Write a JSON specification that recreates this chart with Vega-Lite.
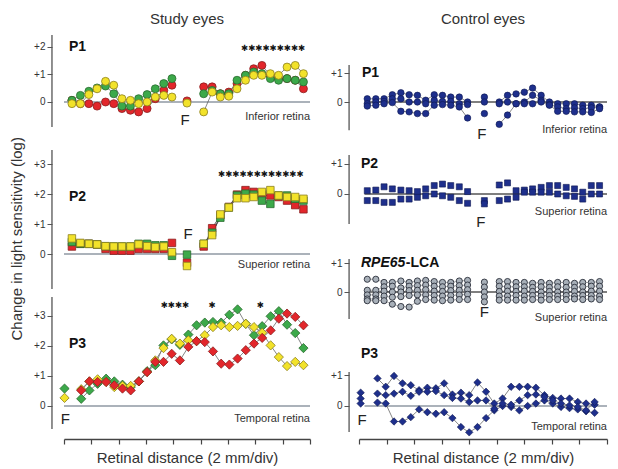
{
"$schema": "https://vega.github.io/schema/vega-lite/v6.json",
"padding": {"left": 9, "top": 12, "right": 5, "bottom": 4},
"title": {"text": "Change in light sensitivity (log)", "orient": "left", "anchor": "middle", "fontSize": 15, "fontWeight": "normal", "color": "#333", "offset": 9},
"datasets": {
"s1": [
{"e":"r","s":1,"x":0.29,"y":0.06},{"e":"r","s":1,"x":0.60,"y":-0.06},{"e":"r","s":1,"x":0.91,"y":-0.06},{"e":"r","s":1,"x":1.21,"y":-0.15},{"e":"r","s":1,"x":1.52,"y":0.00},{"e":"r","s":1,"x":1.82,"y":-0.06},{"e":"r","s":1,"x":2.12,"y":-0.24},{"e":"r","s":1,"x":2.43,"y":-0.30},{"e":"r","s":1,"x":2.73,"y":-0.36},{"e":"r","s":1,"x":3.04,"y":-0.24},{"e":"r","s":1,"x":3.34,"y":0.12},{"e":"r","s":1,"x":3.65,"y":0.42},{"e":"r","s":1,"x":3.95,"y":0.61},
{"e":"r","s":2,"x":4.50,"y":0.04},
{"e":"r","s":3,"x":5.11,"y":0.55},{"e":"r","s":3,"x":5.42,"y":0.55},{"e":"r","s":3,"x":5.72,"y":0.30},{"e":"r","s":3,"x":6.03,"y":0.36},{"e":"r","s":3,"x":6.33,"y":0.67},{"e":"r","s":3,"x":6.64,"y":0.97},{"e":"r","s":3,"x":6.94,"y":1.21},{"e":"r","s":3,"x":7.24,"y":1.33},{"e":"r","s":3,"x":7.55,"y":0.97},{"e":"r","s":3,"x":7.85,"y":0.85},{"e":"r","s":3,"x":8.16,"y":0.85},{"e":"r","s":3,"x":8.46,"y":0.79},{"e":"r","s":3,"x":8.76,"y":0.48},
{"e":"g","s":1,"x":0.29,"y":0.06},{"e":"g","s":1,"x":0.60,"y":0.24},{"e":"g","s":1,"x":0.91,"y":0.39},{"e":"g","s":1,"x":1.21,"y":0.51},{"e":"g","s":1,"x":1.52,"y":0.58},{"e":"g","s":1,"x":1.82,"y":0.30},{"e":"g","s":1,"x":2.12,"y":-0.15},{"e":"g","s":1,"x":2.43,"y":-0.15},{"e":"g","s":1,"x":2.73,"y":0.12},{"e":"g","s":1,"x":3.04,"y":0.27},{"e":"g","s":1,"x":3.34,"y":0.48},{"e":"g","s":1,"x":3.65,"y":0.67},{"e":"g","s":1,"x":3.95,"y":0.85},
{"e":"g","s":3,"x":5.11,"y":0.30},{"e":"g","s":3,"x":5.42,"y":0.42},{"e":"g","s":3,"x":5.72,"y":0.30},{"e":"g","s":3,"x":6.03,"y":0.30},{"e":"g","s":3,"x":6.33,"y":0.79},{"e":"g","s":3,"x":6.64,"y":0.97},{"e":"g","s":3,"x":6.94,"y":1.09},{"e":"g","s":3,"x":7.24,"y":1.03},{"e":"g","s":3,"x":7.55,"y":0.85},{"e":"g","s":3,"x":7.85,"y":0.79},{"e":"g","s":3,"x":8.16,"y":0.85},{"e":"g","s":3,"x":8.46,"y":0.79},{"e":"g","s":3,"x":8.76,"y":0.73},
{"e":"y","s":1,"x":0.29,"y":-0.06},{"e":"y","s":1,"x":0.60,"y":-0.06},{"e":"y","s":1,"x":0.91,"y":0.27},{"e":"y","s":1,"x":1.21,"y":0.48},{"e":"y","s":1,"x":1.52,"y":0.75},{"e":"y","s":1,"x":1.82,"y":0.61},{"e":"y","s":1,"x":2.12,"y":0.12},{"e":"y","s":1,"x":2.43,"y":0.06},{"e":"y","s":1,"x":2.73,"y":-0.06},{"e":"y","s":1,"x":3.04,"y":0.00},{"e":"y","s":1,"x":3.34,"y":0.18},{"e":"y","s":1,"x":3.65,"y":0.24},{"e":"y","s":1,"x":3.95,"y":0.18},
{"e":"y","s":2,"x":4.50,"y":-0.04},
{"e":"y","s":3,"x":5.11,"y":-0.36},{"e":"y","s":3,"x":5.42,"y":0.36},{"e":"y","s":3,"x":5.72,"y":0.18},{"e":"y","s":3,"x":6.03,"y":0.21},{"e":"y","s":3,"x":6.33,"y":0.48},{"e":"y","s":3,"x":6.64,"y":0.79},{"e":"y","s":3,"x":6.94,"y":0.97},{"e":"y","s":3,"x":7.24,"y":0.97},{"e":"y","s":3,"x":7.55,"y":1.03},{"e":"y","s":3,"x":7.85,"y":0.97},{"e":"y","s":3,"x":8.16,"y":1.27},{"e":"y","s":3,"x":8.46,"y":1.33},{"e":"y","s":3,"x":8.76,"y":1.03}
],
"s2": [
{"e":"r","s":1,"x":0.29,"y":0.25},{"e":"r","s":1,"x":0.60,"y":0.34},{"e":"r","s":1,"x":0.91,"y":0.34},{"e":"r","s":1,"x":1.21,"y":0.32},{"e":"r","s":1,"x":1.52,"y":0.17},{"e":"r","s":1,"x":1.82,"y":0.11},{"e":"r","s":1,"x":2.12,"y":0.11},{"e":"r","s":1,"x":2.43,"y":0.11},{"e":"r","s":1,"x":2.73,"y":0.17},{"e":"r","s":1,"x":3.04,"y":0.17},{"e":"r","s":1,"x":3.34,"y":0.17},{"e":"r","s":1,"x":3.65,"y":0.17},{"e":"r","s":1,"x":3.95,"y":0.37},
{"e":"r","s":2,"x":4.50,"y":-0.29},
{"e":"r","s":3,"x":5.11,"y":0.25},{"e":"r","s":3,"x":5.42,"y":0.86},{"e":"r","s":3,"x":5.72,"y":1.29},{"e":"r","s":3,"x":6.03,"y":1.57},{"e":"r","s":3,"x":6.33,"y":1.98},{"e":"r","s":3,"x":6.64,"y":2.13},{"e":"r","s":3,"x":6.94,"y":2.07},{"e":"r","s":3,"x":7.24,"y":1.95},{"e":"r","s":3,"x":7.55,"y":1.95},{"e":"r","s":3,"x":7.85,"y":1.90},{"e":"r","s":3,"x":8.16,"y":1.78},{"e":"r","s":3,"x":8.46,"y":1.63},{"e":"r","s":3,"x":8.76,"y":1.49},
{"e":"g","s":1,"x":0.29,"y":0.40},{"e":"g","s":1,"x":0.60,"y":0.34},{"e":"g","s":1,"x":0.91,"y":0.34},{"e":"g","s":1,"x":1.21,"y":0.32},{"e":"g","s":1,"x":1.52,"y":0.26},{"e":"g","s":1,"x":1.82,"y":0.25},{"e":"g","s":1,"x":2.12,"y":0.25},{"e":"g","s":1,"x":2.43,"y":0.25},{"e":"g","s":1,"x":2.73,"y":0.34},{"e":"g","s":1,"x":3.04,"y":0.34},{"e":"g","s":1,"x":3.34,"y":0.29},{"e":"g","s":1,"x":3.65,"y":0.29},{"e":"g","s":1,"x":3.95,"y":-0.06},
{"e":"g","s":2,"x":4.50,"y":-0.02},
{"e":"g","s":3,"x":5.11,"y":0.34},{"e":"g","s":3,"x":5.42,"y":0.71},{"e":"g","s":3,"x":5.72,"y":1.21},{"e":"g","s":3,"x":6.03,"y":1.55},{"e":"g","s":3,"x":6.33,"y":1.95},{"e":"g","s":3,"x":6.64,"y":2.01},{"e":"g","s":3,"x":6.94,"y":1.98},{"e":"g","s":3,"x":7.24,"y":1.78},{"e":"g","s":3,"x":7.55,"y":1.67},{"e":"g","s":3,"x":7.85,"y":1.95},{"e":"g","s":3,"x":8.16,"y":1.95},{"e":"g","s":3,"x":8.46,"y":1.84},{"e":"g","s":3,"x":8.76,"y":1.78},
{"e":"y","s":1,"x":0.29,"y":0.52},{"e":"y","s":1,"x":0.60,"y":0.37},{"e":"y","s":1,"x":0.91,"y":0.34},{"e":"y","s":1,"x":1.21,"y":0.32},{"e":"y","s":1,"x":1.52,"y":0.26},{"e":"y","s":1,"x":1.82,"y":0.25},{"e":"y","s":1,"x":2.12,"y":0.25},{"e":"y","s":1,"x":2.43,"y":0.25},{"e":"y","s":1,"x":2.73,"y":0.32},{"e":"y","s":1,"x":3.04,"y":0.26},{"e":"y","s":1,"x":3.34,"y":0.23},{"e":"y","s":1,"x":3.65,"y":0.25},{"e":"y","s":1,"x":3.95,"y":0.06},
{"e":"y","s":2,"x":4.50,"y":-0.40},
{"e":"y","s":3,"x":5.11,"y":0.34},{"e":"y","s":3,"x":5.42,"y":0.63},{"e":"y","s":3,"x":5.72,"y":1.32},{"e":"y","s":3,"x":6.03,"y":1.55},{"e":"y","s":3,"x":6.33,"y":1.86},{"e":"y","s":3,"x":6.64,"y":1.86},{"e":"y","s":3,"x":6.94,"y":1.90},{"e":"y","s":3,"x":7.24,"y":2.07},{"e":"y","s":3,"x":7.55,"y":2.13},{"e":"y","s":3,"x":7.85,"y":1.95},{"e":"y","s":3,"x":8.16,"y":1.90},{"e":"y","s":3,"x":8.46,"y":1.90},{"e":"y","s":3,"x":8.76,"y":1.84}
],
"s3": [
{"e":"g","s":0,"x":0.02,"y":0.58},{"e":"y","s":0,"x":0.02,"y":0.27},
{"e":"g","s":1,"x":0.63,"y":0.24},{"e":"g","s":1,"x":0.93,"y":0.52},{"e":"g","s":1,"x":1.23,"y":0.74},{"e":"g","s":1,"x":1.54,"y":0.91},{"e":"g","s":1,"x":1.84,"y":0.82},{"e":"g","s":1,"x":2.14,"y":0.71},{"e":"g","s":1,"x":2.44,"y":0.63},{"e":"g","s":1,"x":2.74,"y":0.82},{"e":"g","s":1,"x":3.04,"y":1.16},{"e":"g","s":1,"x":3.34,"y":1.36},{"e":"g","s":1,"x":3.64,"y":2.02},{"e":"g","s":1,"x":3.94,"y":2.22},{"e":"g","s":1,"x":4.24,"y":2.04},{"e":"g","s":1,"x":4.55,"y":2.38},{"e":"g","s":1,"x":4.85,"y":2.69},{"e":"g","s":1,"x":5.15,"y":2.78},{"e":"g","s":1,"x":5.45,"y":2.80},{"e":"g","s":1,"x":5.75,"y":2.78},{"e":"g","s":1,"x":6.05,"y":3.04},{"e":"g","s":1,"x":6.35,"y":3.22},{"e":"g","s":1,"x":6.65,"y":2.74},{"e":"g","s":1,"x":6.95,"y":2.36},{"e":"g","s":1,"x":7.25,"y":2.66},{"e":"g","s":1,"x":7.56,"y":2.99},{"e":"g","s":1,"x":7.86,"y":3.16},{"e":"g","s":1,"x":8.16,"y":2.71},{"e":"g","s":1,"x":8.46,"y":2.43},{"e":"g","s":1,"x":8.76,"y":1.93},
{"e":"y","s":1,"x":0.63,"y":0.56},{"e":"y","s":1,"x":0.93,"y":0.82},{"e":"y","s":1,"x":1.23,"y":0.89},{"e":"y","s":1,"x":1.54,"y":0.80},{"e":"y","s":1,"x":1.84,"y":0.63},{"e":"y","s":1,"x":2.14,"y":0.67},{"e":"y","s":1,"x":2.44,"y":0.67},{"e":"y","s":1,"x":2.74,"y":0.82},{"e":"y","s":1,"x":3.04,"y":1.13},{"e":"y","s":1,"x":3.34,"y":1.52},{"e":"y","s":1,"x":3.64,"y":1.93},{"e":"y","s":1,"x":3.94,"y":2.24},{"e":"y","s":1,"x":4.24,"y":2.08},{"e":"y","s":1,"x":4.55,"y":2.19},{"e":"y","s":1,"x":4.85,"y":2.16},{"e":"y","s":1,"x":5.15,"y":2.36},{"e":"y","s":1,"x":5.45,"y":2.63},{"e":"y","s":1,"x":5.75,"y":2.69},{"e":"y","s":1,"x":6.05,"y":2.63},{"e":"y","s":1,"x":6.35,"y":2.67},{"e":"y","s":1,"x":6.65,"y":2.74},{"e":"y","s":1,"x":6.95,"y":2.63},{"e":"y","s":1,"x":7.25,"y":2.44},{"e":"y","s":1,"x":7.56,"y":2.02},{"e":"y","s":1,"x":7.86,"y":1.63},{"e":"y","s":1,"x":8.16,"y":1.33},{"e":"y","s":1,"x":8.46,"y":1.47},{"e":"y","s":1,"x":8.76,"y":1.36},
{"e":"r","s":1,"x":0.63,"y":0.52},{"e":"r","s":1,"x":0.93,"y":0.82},{"e":"r","s":1,"x":1.23,"y":0.80},{"e":"r","s":1,"x":1.54,"y":0.80},{"e":"r","s":1,"x":1.84,"y":0.69},{"e":"r","s":1,"x":2.14,"y":0.58},{"e":"r","s":1,"x":2.44,"y":0.52},{"e":"r","s":1,"x":2.74,"y":0.82},{"e":"r","s":1,"x":3.04,"y":1.13},{"e":"r","s":1,"x":3.34,"y":1.47},{"e":"r","s":1,"x":3.64,"y":1.47},{"e":"r","s":1,"x":3.94,"y":1.74},{"e":"r","s":1,"x":4.24,"y":1.52},{"e":"r","s":1,"x":4.55,"y":1.97},{"e":"r","s":1,"x":4.85,"y":2.16},{"e":"r","s":1,"x":5.15,"y":2.13},{"e":"r","s":1,"x":5.45,"y":1.82},{"e":"r","s":1,"x":5.75,"y":1.41},{"e":"r","s":1,"x":6.05,"y":1.38},{"e":"r","s":1,"x":6.35,"y":1.58},{"e":"r","s":1,"x":6.65,"y":1.86},{"e":"r","s":1,"x":6.95,"y":2.08},{"e":"r","s":1,"x":7.25,"y":2.27},{"e":"r","s":1,"x":7.56,"y":2.52},{"e":"r","s":1,"x":7.86,"y":2.91},{"e":"r","s":1,"x":8.16,"y":3.08},{"e":"r","s":1,"x":8.46,"y":2.97},{"e":"r","s":1,"x":8.76,"y":2.69}
],
"c1": [
{"e":"A","s":1,"x":0.30,"y":0.11},{"e":"A","s":1,"x":0.61,"y":0.11},{"e":"A","s":1,"x":0.91,"y":0.11},{"e":"A","s":1,"x":1.21,"y":0.25},{"e":"A","s":1,"x":1.52,"y":0.32},{"e":"A","s":1,"x":1.82,"y":0.25},{"e":"A","s":1,"x":2.12,"y":0.23},{"e":"A","s":1,"x":2.42,"y":0.06},{"e":"A","s":1,"x":2.73,"y":0.25},{"e":"A","s":1,"x":3.03,"y":0.23},{"e":"A","s":1,"x":3.33,"y":0.17},{"e":"A","s":1,"x":3.64,"y":0.17},{"e":"A","s":1,"x":3.94,"y":0.00},
{"e":"A","s":2,"x":4.55,"y":0.17},
{"e":"A","s":3,"x":5.09,"y":0.00},{"e":"A","s":3,"x":5.39,"y":0.23},{"e":"A","s":3,"x":5.70,"y":0.28},{"e":"A","s":3,"x":6.00,"y":0.34},{"e":"A","s":3,"x":6.30,"y":0.48},{"e":"A","s":3,"x":6.61,"y":0.23},{"e":"A","s":3,"x":6.91,"y":0.00},{"e":"A","s":3,"x":7.21,"y":-0.06},{"e":"A","s":3,"x":7.52,"y":-0.06},{"e":"A","s":3,"x":7.82,"y":-0.06},{"e":"A","s":3,"x":8.12,"y":-0.11},{"e":"A","s":3,"x":8.43,"y":-0.11},{"e":"A","s":3,"x":8.73,"y":-0.17},
{"e":"B","s":1,"x":0.30,"y":-0.06},{"e":"B","s":1,"x":0.61,"y":0.00},{"e":"B","s":1,"x":0.91,"y":0.02},{"e":"B","s":1,"x":1.21,"y":0.11},{"e":"B","s":1,"x":1.52,"y":0.11},{"e":"B","s":1,"x":1.82,"y":0.00},{"e":"B","s":1,"x":2.12,"y":0.00},{"e":"B","s":1,"x":2.42,"y":-0.06},{"e":"B","s":1,"x":2.73,"y":0.06},{"e":"B","s":1,"x":3.03,"y":0.02},{"e":"B","s":1,"x":3.33,"y":0.02},{"e":"B","s":1,"x":3.64,"y":-0.06},{"e":"B","s":1,"x":3.94,"y":-0.09},
{"e":"B","s":2,"x":4.55,"y":0.00},
{"e":"B","s":3,"x":5.09,"y":-0.06},{"e":"B","s":3,"x":5.39,"y":0.00},{"e":"B","s":3,"x":5.70,"y":-0.06},{"e":"B","s":3,"x":6.00,"y":0.00},{"e":"B","s":3,"x":6.30,"y":0.23},{"e":"B","s":3,"x":6.61,"y":0.06},{"e":"B","s":3,"x":6.91,"y":-0.09},{"e":"B","s":3,"x":7.21,"y":-0.17},{"e":"B","s":3,"x":7.52,"y":-0.23},{"e":"B","s":3,"x":7.82,"y":-0.20},{"e":"B","s":3,"x":8.12,"y":-0.23},{"e":"B","s":3,"x":8.43,"y":-0.20},{"e":"B","s":3,"x":8.73,"y":-0.17},
{"e":"C","s":1,"x":0.30,"y":-0.14},{"e":"C","s":1,"x":0.61,"y":-0.11},{"e":"C","s":1,"x":0.91,"y":-0.06},{"e":"C","s":1,"x":1.21,"y":-0.02},{"e":"C","s":1,"x":1.52,"y":-0.32},{"e":"C","s":1,"x":1.82,"y":-0.34},{"e":"C","s":1,"x":2.12,"y":-0.40},{"e":"C","s":1,"x":2.42,"y":-0.40},{"e":"C","s":1,"x":2.73,"y":-0.11},{"e":"C","s":1,"x":3.03,"y":-0.09},{"e":"C","s":1,"x":3.33,"y":-0.11},{"e":"C","s":1,"x":3.64,"y":-0.17},{"e":"C","s":1,"x":3.94,"y":-0.55},
{"e":"C","s":2,"x":4.55,"y":-0.40},
{"e":"C","s":3,"x":5.09,"y":-0.77},{"e":"C","s":3,"x":5.39,"y":-0.45},{"e":"C","s":3,"x":5.70,"y":-0.06},{"e":"C","s":3,"x":6.00,"y":-0.06},{"e":"C","s":3,"x":6.30,"y":-0.06},{"e":"C","s":3,"x":6.61,"y":0.00},{"e":"C","s":3,"x":6.91,"y":-0.11},{"e":"C","s":3,"x":7.21,"y":-0.32},{"e":"C","s":3,"x":7.52,"y":-0.32},{"e":"C","s":3,"x":7.82,"y":-0.34},{"e":"C","s":3,"x":8.12,"y":-0.34},{"e":"C","s":3,"x":8.43,"y":-0.36},{"e":"C","s":3,"x":8.73,"y":-0.23}
],
"c2": [
{"e":"A","s":1,"x":0.30,"y":0.11},{"e":"A","s":1,"x":0.61,"y":0.13},{"e":"A","s":1,"x":0.91,"y":0.24},{"e":"A","s":1,"x":1.21,"y":0.17},{"e":"A","s":1,"x":1.52,"y":0.13},{"e":"A","s":1,"x":1.82,"y":0.11},{"e":"A","s":1,"x":2.12,"y":0.08},{"e":"A","s":1,"x":2.42,"y":0.17},{"e":"A","s":1,"x":2.73,"y":0.28},{"e":"A","s":1,"x":3.03,"y":0.33},{"e":"A","s":1,"x":3.33,"y":0.28},{"e":"A","s":1,"x":3.64,"y":0.24},{"e":"A","s":1,"x":3.94,"y":0.08},
{"e":"A","s":2,"x":4.55,"y":-0.22},
{"e":"A","s":3,"x":5.09,"y":0.30},{"e":"A","s":3,"x":5.39,"y":0.37},{"e":"A","s":3,"x":5.70,"y":0.11},{"e":"A","s":3,"x":6.00,"y":0.13},{"e":"A","s":3,"x":6.30,"y":0.17},{"e":"A","s":3,"x":6.61,"y":0.22},{"e":"A","s":3,"x":6.91,"y":0.28},{"e":"A","s":3,"x":7.21,"y":0.28},{"e":"A","s":3,"x":7.52,"y":0.22},{"e":"A","s":3,"x":7.82,"y":0.17},{"e":"A","s":3,"x":8.12,"y":0.06},{"e":"A","s":3,"x":8.43,"y":0.28},{"e":"A","s":3,"x":8.73,"y":0.28},
{"e":"B","s":1,"x":0.30,"y":-0.22},{"e":"B","s":1,"x":0.61,"y":-0.22},{"e":"B","s":1,"x":0.91,"y":-0.28},{"e":"B","s":1,"x":1.21,"y":-0.28},{"e":"B","s":1,"x":1.52,"y":-0.17},{"e":"B","s":1,"x":1.82,"y":-0.17},{"e":"B","s":1,"x":2.12,"y":-0.11},{"e":"B","s":1,"x":2.42,"y":-0.06},{"e":"B","s":1,"x":2.73,"y":0.00},{"e":"B","s":1,"x":3.03,"y":-0.06},{"e":"B","s":1,"x":3.33,"y":-0.11},{"e":"B","s":1,"x":3.64,"y":-0.22},{"e":"B","s":1,"x":3.94,"y":-0.31},
{"e":"B","s":2,"x":4.55,"y":-0.33},
{"e":"B","s":3,"x":5.09,"y":-0.22},{"e":"B","s":3,"x":5.39,"y":-0.17},{"e":"B","s":3,"x":5.70,"y":-0.11},{"e":"B","s":3,"x":6.00,"y":0.06},{"e":"B","s":3,"x":6.30,"y":0.06},{"e":"B","s":3,"x":6.61,"y":0.06},{"e":"B","s":3,"x":6.91,"y":0.06},{"e":"B","s":3,"x":7.21,"y":0.00},{"e":"B","s":3,"x":7.52,"y":-0.06},{"e":"B","s":3,"x":7.82,"y":-0.08},{"e":"B","s":3,"x":8.12,"y":-0.17},{"e":"B","s":3,"x":8.43,"y":0.00},{"e":"B","s":3,"x":8.73,"y":0.00}
],
"rp": [
{"e":"R1","s":1,"x":0.30,"y":0.44},{"e":"R1","s":1,"x":0.61,"y":0.44},{"e":"R1","s":1,"x":0.91,"y":0.33},{"e":"R1","s":1,"x":1.21,"y":0.33},{"e":"R1","s":1,"x":1.52,"y":0.38},{"e":"R1","s":1,"x":1.82,"y":0.33},{"e":"R1","s":1,"x":2.12,"y":0.38},{"e":"R1","s":1,"x":2.42,"y":0.40},{"e":"R1","s":1,"x":2.73,"y":0.36},{"e":"R1","s":1,"x":3.03,"y":0.33},{"e":"R1","s":1,"x":3.33,"y":0.33},{"e":"R1","s":1,"x":3.64,"y":0.38},{"e":"R1","s":1,"x":3.94,"y":0.40},
{"e":"R2","s":1,"x":0.30,"y":0.06},{"e":"R2","s":1,"x":0.61,"y":0.06},{"e":"R2","s":1,"x":0.91,"y":0.18},{"e":"R2","s":1,"x":1.21,"y":0.20},{"e":"R2","s":1,"x":1.52,"y":0.14},{"e":"R2","s":1,"x":1.82,"y":0.20},{"e":"R2","s":1,"x":2.12,"y":0.22},{"e":"R2","s":1,"x":2.42,"y":0.24},{"e":"R2","s":1,"x":2.73,"y":0.20},{"e":"R2","s":1,"x":3.03,"y":0.18},{"e":"R2","s":1,"x":3.33,"y":0.20},{"e":"R2","s":1,"x":3.64,"y":0.22},{"e":"R2","s":1,"x":3.94,"y":0.24},
{"e":"R3","s":1,"x":0.30,"y":-0.10},{"e":"R3","s":1,"x":0.61,"y":-0.10},{"e":"R3","s":1,"x":0.91,"y":0.03},{"e":"R3","s":1,"x":1.21,"y":0.00},{"e":"R3","s":1,"x":1.52,"y":0.00},{"e":"R3","s":1,"x":1.82,"y":0.05},{"e":"R3","s":1,"x":2.12,"y":0.06},{"e":"R3","s":1,"x":2.42,"y":0.08},{"e":"R3","s":1,"x":2.73,"y":0.03},{"e":"R3","s":1,"x":3.03,"y":0.02},{"e":"R3","s":1,"x":3.33,"y":0.05},{"e":"R3","s":1,"x":3.64,"y":0.06},{"e":"R3","s":1,"x":3.94,"y":0.08},
{"e":"R4","s":1,"x":0.30,"y":-0.24},{"e":"R4","s":1,"x":0.61,"y":-0.24},{"e":"R4","s":1,"x":0.91,"y":-0.14},{"e":"R4","s":1,"x":1.21,"y":-0.18},{"e":"R4","s":1,"x":1.52,"y":-0.16},{"e":"R4","s":1,"x":1.82,"y":-0.12},{"e":"R4","s":1,"x":2.12,"y":-0.10},{"e":"R4","s":1,"x":2.42,"y":-0.10},{"e":"R4","s":1,"x":2.73,"y":-0.12},{"e":"R4","s":1,"x":3.03,"y":-0.14},{"e":"R4","s":1,"x":3.33,"y":-0.12},{"e":"R4","s":1,"x":3.64,"y":-0.10},{"e":"R4","s":1,"x":3.94,"y":-0.08},
{"e":"R5","s":1,"x":0.30,"y":-0.30},{"e":"R5","s":1,"x":0.61,"y":-0.30},{"e":"R5","s":1,"x":0.91,"y":-0.30},{"e":"R5","s":1,"x":1.21,"y":-0.42},{"e":"R5","s":1,"x":1.52,"y":-0.50},{"e":"R5","s":1,"x":1.82,"y":-0.52},{"e":"R5","s":1,"x":2.12,"y":-0.32},{"e":"R5","s":1,"x":2.42,"y":-0.26},{"e":"R5","s":1,"x":2.73,"y":-0.28},{"e":"R5","s":1,"x":3.03,"y":-0.30},{"e":"R5","s":1,"x":3.33,"y":-0.28},{"e":"R5","s":1,"x":3.64,"y":-0.26},{"e":"R5","s":1,"x":3.94,"y":-0.26},
{"e":"R1","s":2,"x":4.55,"y":0.34},{"e":"R2","s":2,"x":4.55,"y":0.17},{"e":"R3","s":2,"x":4.55,"y":0.00},{"e":"R4","s":2,"x":4.55,"y":-0.17},{"e":"R5","s":2,"x":4.55,"y":-0.34},
{"e":"R1","s":3,"x":5.09,"y":0.36},{"e":"R1","s":3,"x":5.39,"y":0.36},{"e":"R1","s":3,"x":5.70,"y":0.33},{"e":"R1","s":3,"x":6.00,"y":0.33},{"e":"R1","s":3,"x":6.30,"y":0.30},{"e":"R1","s":3,"x":6.61,"y":0.33},{"e":"R1","s":3,"x":6.91,"y":0.30},{"e":"R1","s":3,"x":7.21,"y":0.33},{"e":"R1","s":3,"x":7.52,"y":0.33},{"e":"R1","s":3,"x":7.82,"y":0.30},{"e":"R1","s":3,"x":8.12,"y":0.33},{"e":"R1","s":3,"x":8.43,"y":0.33},{"e":"R1","s":3,"x":8.73,"y":0.36},
{"e":"R2","s":3,"x":5.09,"y":0.20},{"e":"R2","s":3,"x":5.39,"y":0.18},{"e":"R2","s":3,"x":5.70,"y":0.18},{"e":"R2","s":3,"x":6.00,"y":0.18},{"e":"R2","s":3,"x":6.30,"y":0.16},{"e":"R2","s":3,"x":6.61,"y":0.18},{"e":"R2","s":3,"x":6.91,"y":0.16},{"e":"R2","s":3,"x":7.21,"y":0.18},{"e":"R2","s":3,"x":7.52,"y":0.16},{"e":"R2","s":3,"x":7.82,"y":0.16},{"e":"R2","s":3,"x":8.12,"y":0.18},{"e":"R2","s":3,"x":8.43,"y":0.20},{"e":"R2","s":3,"x":8.73,"y":0.20},
{"e":"R3","s":3,"x":5.09,"y":0.02},{"e":"R3","s":3,"x":5.39,"y":0.03},{"e":"R3","s":3,"x":5.70,"y":0.02},{"e":"R3","s":3,"x":6.00,"y":0.03},{"e":"R3","s":3,"x":6.30,"y":0.02},{"e":"R3","s":3,"x":6.61,"y":0.00},{"e":"R3","s":3,"x":6.91,"y":0.02},{"e":"R3","s":3,"x":7.21,"y":0.00},{"e":"R3","s":3,"x":7.52,"y":0.00},{"e":"R3","s":3,"x":7.82,"y":0.02},{"e":"R3","s":3,"x":8.12,"y":0.00},{"e":"R3","s":3,"x":8.43,"y":0.03},{"e":"R3","s":3,"x":8.73,"y":0.03},
{"e":"R4","s":3,"x":5.09,"y":-0.14},{"e":"R4","s":3,"x":5.39,"y":-0.14},{"e":"R4","s":3,"x":5.70,"y":-0.12},{"e":"R4","s":3,"x":6.00,"y":-0.14},{"e":"R4","s":3,"x":6.30,"y":-0.12},{"e":"R4","s":3,"x":6.61,"y":-0.14},{"e":"R4","s":3,"x":6.91,"y":-0.12},{"e":"R4","s":3,"x":7.21,"y":-0.14},{"e":"R4","s":3,"x":7.52,"y":-0.12},{"e":"R4","s":3,"x":7.82,"y":-0.14},{"e":"R4","s":3,"x":8.12,"y":-0.12},{"e":"R4","s":3,"x":8.43,"y":-0.12},{"e":"R4","s":3,"x":8.73,"y":-0.14},
{"e":"R5","s":3,"x":5.09,"y":-0.28},{"e":"R5","s":3,"x":5.39,"y":-0.28},{"e":"R5","s":3,"x":5.70,"y":-0.28},{"e":"R5","s":3,"x":6.00,"y":-0.28},{"e":"R5","s":3,"x":6.30,"y":-0.26},{"e":"R5","s":3,"x":6.61,"y":-0.28},{"e":"R5","s":3,"x":6.91,"y":-0.26},{"e":"R5","s":3,"x":7.21,"y":-0.26},{"e":"R5","s":3,"x":7.52,"y":-0.26},{"e":"R5","s":3,"x":7.82,"y":-0.24},{"e":"R5","s":3,"x":8.12,"y":-0.26},{"e":"R5","s":3,"x":8.43,"y":-0.24},{"e":"R5","s":3,"x":8.73,"y":-0.26}
],
"c3": [
{"e":"F1","s":0,"x":0.06,"y":0.43},{"e":"F2","s":0,"x":0.06,"y":0.24},{"e":"F3","s":0,"x":0.06,"y":0.08},
{"e":"D1","s":1,"x":0.67,"y":0.11},{"e":"D1","s":1,"x":0.97,"y":0.08},{"e":"D1","s":1,"x":1.27,"y":-0.50},{"e":"D1","s":1,"x":1.58,"y":-0.50},{"e":"D1","s":1,"x":1.88,"y":-0.36},{"e":"D1","s":1,"x":2.18,"y":-0.11},{"e":"D1","s":1,"x":2.48,"y":-0.20},{"e":"D1","s":1,"x":2.79,"y":-0.25},{"e":"D1","s":1,"x":3.09,"y":-0.20},{"e":"D1","s":1,"x":3.39,"y":-0.39},{"e":"D1","s":1,"x":3.70,"y":-0.68},{"e":"D1","s":1,"x":4.00,"y":-0.85},{"e":"D1","s":1,"x":4.30,"y":-0.68},{"e":"D1","s":1,"x":4.61,"y":-0.39},{"e":"D1","s":1,"x":4.91,"y":-0.14},{"e":"D1","s":1,"x":5.21,"y":0.00},{"e":"D1","s":1,"x":5.52,"y":-0.03},{"e":"D1","s":1,"x":5.82,"y":-0.14},{"e":"D1","s":1,"x":6.12,"y":0.00},{"e":"D1","s":1,"x":6.42,"y":0.08},{"e":"D1","s":1,"x":6.73,"y":0.18},{"e":"D1","s":1,"x":7.03,"y":0.08},{"e":"D1","s":1,"x":7.33,"y":-0.03},{"e":"D1","s":1,"x":7.64,"y":-0.07},{"e":"D1","s":1,"x":7.94,"y":-0.11},{"e":"D1","s":1,"x":8.24,"y":-0.17},{"e":"D1","s":1,"x":8.55,"y":-0.22},
{"e":"D2","s":1,"x":0.67,"y":0.89},{"e":"D2","s":1,"x":0.97,"y":0.62},{"e":"D2","s":1,"x":1.27,"y":0.97},{"e":"D2","s":1,"x":1.58,"y":0.73},{"e":"D2","s":1,"x":1.88,"y":0.67},{"e":"D2","s":1,"x":2.18,"y":0.51},{"e":"D2","s":1,"x":2.48,"y":0.59},{"e":"D2","s":1,"x":2.79,"y":0.57},{"e":"D2","s":1,"x":3.09,"y":0.73},{"e":"D2","s":1,"x":3.39,"y":0.37},{"e":"D2","s":1,"x":3.70,"y":0.43},{"e":"D2","s":1,"x":4.00,"y":0.35},{"e":"D2","s":1,"x":4.30,"y":0.76},{"e":"D2","s":1,"x":4.61,"y":0.46},{"e":"D2","s":1,"x":4.91,"y":0.08},{"e":"D2","s":1,"x":5.21,"y":0.24},{"e":"D2","s":1,"x":5.52,"y":0.62},{"e":"D2","s":1,"x":5.82,"y":0.62},{"e":"D2","s":1,"x":6.12,"y":0.62},{"e":"D2","s":1,"x":6.42,"y":0.59},{"e":"D2","s":1,"x":6.73,"y":0.35},{"e":"D2","s":1,"x":7.03,"y":0.26},{"e":"D2","s":1,"x":7.33,"y":0.24},{"e":"D2","s":1,"x":7.64,"y":0.24},{"e":"D2","s":1,"x":7.94,"y":0.13},{"e":"D2","s":1,"x":8.24,"y":0.08},{"e":"D2","s":1,"x":8.55,"y":0.04},
{"e":"D3","s":1,"x":0.67,"y":0.40},{"e":"D3","s":1,"x":0.97,"y":0.35},{"e":"D3","s":1,"x":1.27,"y":0.40},{"e":"D3","s":1,"x":1.58,"y":0.46},{"e":"D3","s":1,"x":1.88,"y":0.33},{"e":"D3","s":1,"x":2.18,"y":0.46},{"e":"D3","s":1,"x":2.48,"y":0.46},{"e":"D3","s":1,"x":2.79,"y":0.48},{"e":"D3","s":1,"x":3.09,"y":0.35},{"e":"D3","s":1,"x":3.39,"y":0.26},{"e":"D3","s":1,"x":3.70,"y":0.24},{"e":"D3","s":1,"x":4.00,"y":0.13},{"e":"D3","s":1,"x":4.30,"y":0.18},{"e":"D3","s":1,"x":4.61,"y":0.18},{"e":"D3","s":1,"x":4.91,"y":-0.09},{"e":"D3","s":1,"x":5.21,"y":0.08},{"e":"D3","s":1,"x":5.52,"y":0.04},{"e":"D3","s":1,"x":5.82,"y":0.18},{"e":"D3","s":1,"x":6.12,"y":0.35},{"e":"D3","s":1,"x":6.42,"y":0.37},{"e":"D3","s":1,"x":6.73,"y":0.29},{"e":"D3","s":1,"x":7.03,"y":0.18},{"e":"D3","s":1,"x":7.33,"y":0.08},{"e":"D3","s":1,"x":7.64,"y":0.02},{"e":"D3","s":1,"x":7.94,"y":-0.03},{"e":"D3","s":1,"x":8.24,"y":-0.14},{"e":"D3","s":1,"x":8.55,"y":0.13}
]
},
"spacing": 19,
"hconcat": [
{
"vconcat": [
{
"width": 246, "height": 105,
"title": {"text": "Study eyes", "fontSize": 15, "fontWeight": "normal", "color": "#333", "offset": 5, "anchor": "middle"},
"data": {"values": [{}]},
"encoding": {
 "x": {"type": "quantitative", "scale": {"domain": [0, 9], "nice": false, "zero": false}, "axis": null},
 "y": {"type": "quantitative", "scale": {"domain": [-1.273, 2.545], "nice": false, "zero": false}, "axis": {"values": [0, 1, 2], "domain": false, "offset": 12, "title": null, "labelExpr": "datum.value > 0 ? '+' + datum.label : datum.label"}}
},
"layer": [
{"mark": {"type": "rule", "color": "#555", "strokeWidth": 1.3},
 "encoding": {"x": {"datum": -0.44}, "y": {"datum": -0.91}, "y2": {"datum": 2.44}}},
{"mark": {"type": "rule", "color": "#8f98a3", "strokeWidth": 1.5},
 "encoding": {"x": {"datum": 0}, "x2": {"datum": 9}, "y": {"datum": 0}}},
{"data": {"name": "s1"}, "mark": {"type": "line", "color": "#555", "strokeWidth": 0.7},
 "encoding": {"x": {"field": "x"}, "y": {"field": "y"}, "detail": [{"field": "e"}, {"field": "s"}]}},
{"data": {"name": "s1"}, "mark": {"type": "point", "shape": "circle", "filled": true, "size": 64, "strokeWidth": 0.8, "opacity": 1},
 "encoding": {"x": {"field": "x"}, "y": {"field": "y"},
 "fill": {"field": "e", "type": "nominal", "scale": {"domain": ["r", "g", "y"], "range": ["#e2262b", "#3ca94a", "#f2e22a"]}, "legend": null},
 "stroke": {"field": "e", "type": "nominal", "scale": {"domain": ["r", "g", "y"], "range": ["#8a1f1f", "#2a6b2f", "#8c7f20"]}, "legend": null}}},
{"mark": {"type": "text", "text": "P1", "align": "left", "baseline": "middle", "fontSize": 14, "fontWeight": "bold", "color": "#111"},
 "encoding": {"x": {"datum": 0.18}, "y": {"datum": 2.0}}},
{"mark": {"type": "text", "text": "✱✱✱✱✱✱✱✱✱", "align": "center", "baseline": "middle", "fontSize": 8.5, "fontWeight": "bold", "font": "DejaVu Sans", "color": "#111"},
 "encoding": {"x": {"datum": 7.65}, "y": {"datum": 1.96}}},
{"mark": {"type": "text", "text": "F", "align": "center", "baseline": "middle", "fontSize": 15, "color": "#222"},
 "encoding": {"x": {"datum": 4.43}, "y": {"datum": -0.65}}},
{"mark": {"type": "text", "text": "Inferior retina", "align": "right", "baseline": "middle", "fontSize": 11, "color": "#333"},
 "encoding": {"x": {"datum": 9}, "y": {"datum": -0.55}}}
]
},
{
"width": 246, "height": 157,
"data": {"values": [{}]},
"encoding": {
 "x": {"type": "quantitative", "scale": {"domain": [0, 9], "nice": false, "zero": false}, "axis": null},
 "y": {"type": "quantitative", "scale": {"domain": [-1.333, 3.9], "nice": false, "zero": false}, "axis": {"values": [0, 1, 2, 3], "domain": false, "offset": 12, "title": null, "labelExpr": "datum.value > 0 ? '+' + datum.label : datum.label"}}
},
"layer": [
{"mark": {"type": "rule", "color": "#555", "strokeWidth": 1.3},
 "encoding": {"x": {"datum": -0.44}, "y": {"datum": -1.17}, "y2": {"datum": 3.47}}},
{"mark": {"type": "rule", "color": "#8f98a3", "strokeWidth": 1.5},
 "encoding": {"x": {"datum": 0}, "x2": {"datum": 9}, "y": {"datum": 0}}},
{"data": {"name": "s2"}, "mark": {"type": "line", "color": "#333", "strokeWidth": 0.8},
 "encoding": {"x": {"field": "x"}, "y": {"field": "y"}, "detail": [{"field": "e"}, {"field": "s"}]}},
{"data": {"name": "s2"}, "mark": {"type": "point", "shape": "square", "filled": true, "size": 56, "strokeWidth": 0.8, "opacity": 1},
 "encoding": {"x": {"field": "x"}, "y": {"field": "y"},
 "fill": {"field": "e", "type": "nominal", "scale": {"domain": ["r", "g", "y"], "range": ["#e2262b", "#3ca94a", "#f2e22a"]}, "legend": null},
 "stroke": {"field": "e", "type": "nominal", "scale": {"domain": ["r", "g", "y"], "range": ["#8a1f1f", "#2a6b2f", "#8c7f20"]}, "legend": null}}},
{"mark": {"type": "text", "text": "P2", "align": "left", "baseline": "middle", "fontSize": 14, "fontWeight": "bold", "color": "#111"},
 "encoding": {"x": {"datum": 0.18}, "y": {"datum": 1.9}}},
{"mark": {"type": "text", "text": "✱✱✱✱✱✱✱✱✱✱✱✱", "align": "center", "baseline": "middle", "fontSize": 8.5, "fontWeight": "bold", "font": "DejaVu Sans", "color": "#111"},
 "encoding": {"x": {"datum": 7.2}, "y": {"datum": 2.67}}},
{"mark": {"type": "text", "text": "F", "align": "center", "baseline": "middle", "fontSize": 15, "color": "#222"},
 "encoding": {"x": {"datum": 4.54}, "y": {"datum": 0.67}}},
{"mark": {"type": "text", "text": "Superior retina", "align": "right", "baseline": "middle", "fontSize": 11, "color": "#333"},
 "encoding": {"x": {"datum": 9}, "y": {"datum": -0.37}}}
]
},
{
"width": 246, "height": 138,
"data": {"values": [{}]},
"encoding": {
 "x": {"type": "quantitative", "scale": {"domain": [0, 9], "nice": false, "zero": false}, "axis": {"values": [0, 1, 2, 3, 4, 5, 6, 7, 8, 9], "labels": false, "domain": true, "ticks": true, "domainColor": "#444", "domainWidth": 1.4, "domainOpacity": 1, "tickColor": "#444", "tickWidth": 1.2, "tickOpacity": 1, "tickSize": 5, "offset": 7, "title": "Retinal distance (2 mm/div)", "titleFontSize": 15, "titleFontWeight": "normal", "titleColor": "#333", "titlePadding": 6}},
 "y": {"type": "quantitative", "scale": {"domain": [-0.867, 3.733], "nice": false, "zero": false}, "axis": {"values": [0, 1, 2, 3], "domain": false, "offset": 12, "title": null, "labelExpr": "datum.value > 0 ? '+' + datum.label : datum.label"}}
},
"layer": [
{"mark": {"type": "rule", "color": "#555", "strokeWidth": 1.3},
 "encoding": {"x": {"datum": -0.44}, "y": {"datum": -0.77}, "y2": {"datum": 3.63}}},
{"mark": {"type": "rule", "color": "#8f98a3", "strokeWidth": 1.5},
 "encoding": {"x": {"datum": 0}, "x2": {"datum": 9}, "y": {"datum": 0}}},
{"data": {"name": "s3"}, "mark": {"type": "line", "color": "#777", "strokeWidth": 0.9},
 "encoding": {"x": {"field": "x"}, "y": {"field": "y"}, "detail": [{"field": "e"}, {"field": "s"}]}},
{"data": {"name": "s3"}, "mark": {"type": "point", "shape": "diamond", "filled": true, "size": 85, "strokeWidth": 0.8, "opacity": 1},
 "encoding": {"x": {"field": "x"}, "y": {"field": "y"},
 "fill": {"field": "e", "type": "nominal", "scale": {"domain": ["r", "g", "y"], "range": ["#e2262b", "#3ca94a", "#f2e22a"]}, "legend": null},
 "stroke": {"field": "e", "type": "nominal", "scale": {"domain": ["r", "g", "y"], "range": ["#8a1f1f", "#2a6b2f", "#8c7f20"]}, "legend": null}}},
{"mark": {"type": "text", "text": "P3", "align": "left", "baseline": "middle", "fontSize": 14, "fontWeight": "bold", "color": "#111"},
 "encoding": {"x": {"datum": 0.18}, "y": {"datum": 2.07}}},
{"mark": {"type": "text", "text": "✱✱✱✱", "align": "center", "baseline": "middle", "fontSize": 8.5, "fontWeight": "bold", "font": "DejaVu Sans", "color": "#111"},
 "encoding": {"x": {"datum": 4.06}, "y": {"datum": 3.36}}},
{"mark": {"type": "text", "text": "✱", "align": "center", "baseline": "middle", "fontSize": 8.5, "fontWeight": "bold", "font": "DejaVu Sans", "color": "#111"},
 "encoding": {"x": {"datum": 5.42}, "y": {"datum": 3.36}}},
{"mark": {"type": "text", "text": "✱", "align": "center", "baseline": "middle", "fontSize": 8.5, "fontWeight": "bold", "font": "DejaVu Sans", "color": "#111"},
 "encoding": {"x": {"datum": 7.18}, "y": {"datum": 3.36}}},
{"mark": {"type": "text", "text": "F", "align": "left", "baseline": "middle", "fontSize": 15, "color": "#222"},
 "encoding": {"x": {"datum": -0.12}, "y": {"datum": -0.45}}},
{"mark": {"type": "text", "text": "Temporal retina", "align": "right", "baseline": "middle", "fontSize": 11, "color": "#333"},
 "encoding": {"x": {"datum": 9}, "y": {"datum": -0.42}}}
]
}
],
"spacing": 0,
"bounds": "flush"
},
{
"vconcat": [
{
"width": 248, "height": 110,
"title": {"text": "Control eyes", "fontSize": 15, "fontWeight": "normal", "color": "#333", "offset": 5, "anchor": "middle"},
"data": {"values": [{}]},
"encoding": {
 "x": {"type": "quantitative", "scale": {"domain": [0, 9], "nice": false, "zero": false}, "axis": null},
 "y": {"type": "quantitative", "scale": {"domain": [-1.379, 2.414], "nice": false, "zero": false}, "axis": {"values": [0, 1], "domain": false, "offset": 10, "title": null, "labelExpr": "datum.value > 0 ? '+' + datum.label : datum.label"}}
},
"layer": [
{"mark": {"type": "rule", "color": "#555", "strokeWidth": 1.3},
 "encoding": {"x": {"datum": -0.36}, "y": {"datum": -0.97}, "y2": {"datum": 1.28}}},
{"mark": {"type": "rule", "color": "#555", "strokeWidth": 1.3},
 "encoding": {"x": {"datum": 0.2}, "x2": {"datum": 9}, "y": {"datum": 0}}},
{"data": {"name": "c1"}, "mark": {"type": "line", "color": "#555", "strokeWidth": 0.7},
 "encoding": {"x": {"field": "x"}, "y": {"field": "y"}, "detail": [{"field": "e"}, {"field": "s"}]}},
{"data": {"name": "c1"}, "mark": {"type": "point", "shape": "circle", "filled": true, "size": 42, "color": "#1e2f8c", "stroke": "#0e1750", "strokeWidth": 0.6, "opacity": 1},
 "encoding": {"x": {"field": "x"}, "y": {"field": "y"}}},
{"mark": {"type": "text", "text": "P1", "align": "left", "baseline": "middle", "fontSize": 14, "fontWeight": "bold", "color": "#111"},
 "encoding": {"x": {"datum": 0.11}, "y": {"datum": 1.0}}},
{"mark": {"type": "text", "text": "F", "align": "center", "baseline": "middle", "fontSize": 15, "color": "#222"},
 "encoding": {"x": {"datum": 4.46}, "y": {"datum": -1.09}}},
{"mark": {"type": "text", "text": "Inferior retina", "align": "right", "baseline": "middle", "fontSize": 11, "color": "#333"},
 "encoding": {"x": {"datum": 9}, "y": {"datum": -0.97}}}
]
},
{
"width": 248, "height": 96,
"data": {"values": [{}]},
"encoding": {
 "x": {"type": "quantitative", "scale": {"domain": [0, 9], "nice": false, "zero": false}, "axis": null},
 "y": {"type": "quantitative", "scale": {"domain": [-1.467, 1.733], "nice": false, "zero": false}, "axis": {"values": [0, 1], "domain": false, "offset": 10, "title": null, "labelExpr": "datum.value > 0 ? '+' + datum.label : datum.label"}}
},
"layer": [
{"mark": {"type": "rule", "color": "#555", "strokeWidth": 1.3},
 "encoding": {"x": {"datum": -0.36}, "y": {"datum": -1.0}, "y2": {"datum": 1.3}}},
{"mark": {"type": "rule", "color": "#555", "strokeWidth": 1.3},
 "encoding": {"x": {"datum": 0.2}, "x2": {"datum": 9}, "y": {"datum": 0}}},
{"data": {"name": "c2"}, "mark": {"type": "point", "shape": "square", "filled": true, "size": 36, "color": "#1e2f8c", "stroke": "#0e1750", "strokeWidth": 0.6, "opacity": 1},
 "encoding": {"x": {"field": "x"}, "y": {"field": "y"}}},
{"mark": {"type": "text", "text": "P2", "align": "left", "baseline": "middle", "fontSize": 14, "fontWeight": "bold", "color": "#111"},
 "encoding": {"x": {"datum": 0.07}, "y": {"datum": 1.0}}},
{"mark": {"type": "text", "text": "F", "align": "center", "baseline": "middle", "fontSize": 15, "color": "#222"},
 "encoding": {"x": {"datum": 4.42}, "y": {"datum": -0.95}}},
{"mark": {"type": "text", "text": "Superior retina", "align": "right", "baseline": "middle", "fontSize": 11, "color": "#333"},
 "encoding": {"x": {"datum": 9}, "y": {"datum": -0.6}}}
]
},
{
"width": 248, "height": 100,
"data": {"values": [{}]},
"encoding": {
 "x": {"type": "quantitative", "scale": {"domain": [0, 9], "nice": false, "zero": false}, "axis": null},
 "y": {"type": "quantitative", "scale": {"domain": [-1.586, 1.862], "nice": false, "zero": false}, "axis": {"values": [0, 1], "domain": false, "offset": 10, "title": null, "labelExpr": "datum.value > 0 ? '+' + datum.label : datum.label"}}
},
"layer": [
{"mark": {"type": "rule", "color": "#555", "strokeWidth": 1.3},
 "encoding": {"x": {"datum": -0.36}, "y": {"datum": -0.93}, "y2": {"datum": 1.14}}},
{"mark": {"type": "rule", "color": "#555", "strokeWidth": 1.3},
 "encoding": {"x": {"datum": 0.2}, "x2": {"datum": 9}, "y": {"datum": 0}}},
{"data": {"name": "rp"}, "mark": {"type": "line", "color": "#222", "strokeWidth": 0.6, "opacity": 0.6},
 "encoding": {"x": {"field": "x"}, "y": {"field": "y"}, "detail": [{"field": "e"}, {"field": "s"}]}},
{"data": {"name": "rp"}, "mark": {"type": "point", "shape": "circle", "filled": true, "size": 38, "color": "#a8b0b9", "stroke": "#2a2f3a", "strokeWidth": 0.9, "opacity": 1},
 "encoding": {"x": {"field": "x"}, "y": {"field": "y"}}},
{"mark": {"type": "text", "text": "RPE65", "align": "left", "baseline": "middle", "fontSize": 14, "fontWeight": "bold", "fontStyle": "italic", "color": "#111"},
 "encoding": {"x": {"datum": 0.07}, "y": {"datum": 1.0}}},
{"mark": {"type": "text", "text": "-LCA", "align": "left", "baseline": "middle", "fontSize": 14, "fontWeight": "bold", "color": "#111"},
 "encoding": {"x": {"datum": 1.70}, "y": {"datum": 1.0}}},
{"mark": {"type": "text", "text": "F", "align": "center", "baseline": "middle", "fontSize": 15, "color": "#222"},
 "encoding": {"x": {"datum": 4.55}, "y": {"datum": -0.69}}},
{"mark": {"type": "text", "text": "Superior retina", "align": "right", "baseline": "middle", "fontSize": 11, "color": "#333"},
 "encoding": {"x": {"datum": 9}, "y": {"datum": -0.9}}}
]
},
{
"width": 248, "height": 94,
"data": {"values": [{}]},
"encoding": {
 "x": {"type": "quantitative", "scale": {"domain": [0, 9], "nice": false, "zero": false}, "axis": {"values": [0, 1, 2, 3, 4, 5, 6, 7, 8, 9], "labels": false, "domain": true, "ticks": true, "domainColor": "#444", "domainWidth": 1.4, "domainOpacity": 1, "tickColor": "#444", "tickWidth": 1.2, "tickOpacity": 1, "tickSize": 5, "offset": 7, "title": "Retinal distance (2 mm/div)", "titleFontSize": 15, "titleFontWeight": "normal", "titleColor": "#333", "titlePadding": 6}},
 "y": {"type": "quantitative", "scale": {"domain": [-0.839, 2.194], "nice": false, "zero": false}, "axis": {"values": [0, 1], "domain": false, "offset": 10, "title": null, "labelExpr": "datum.value > 0 ? '+' + datum.label : datum.label"}}
},
"layer": [
{"mark": {"type": "rule", "color": "#555", "strokeWidth": 1.3},
 "encoding": {"x": {"datum": -0.36}, "y": {"datum": -0.84}, "y2": {"datum": 1.1}}},
{"mark": {"type": "rule", "color": "#8f98a3", "strokeWidth": 1.5},
 "encoding": {"x": {"datum": 0.2}, "x2": {"datum": 9}, "y": {"datum": 0}}},
{"data": {"name": "c3"}, "mark": {"type": "line", "color": "#777", "strokeWidth": 0.9},
 "encoding": {"x": {"field": "x"}, "y": {"field": "y"}, "detail": [{"field": "e"}, {"field": "s"}]}},
{"data": {"name": "c3"}, "mark": {"type": "point", "shape": "diamond", "filled": true, "size": 55, "color": "#1e2f8c", "stroke": "#0e1750", "strokeWidth": 0.6, "opacity": 1},
 "encoding": {"x": {"field": "x"}, "y": {"field": "y"}}},
{"mark": {"type": "text", "text": "P3", "align": "left", "baseline": "middle", "fontSize": 14, "fontWeight": "bold", "color": "#111"},
 "encoding": {"x": {"datum": 0.07}, "y": {"datum": 1.68}}},
{"mark": {"type": "text", "text": "F", "align": "center", "baseline": "middle", "fontSize": 15, "color": "#222"},
 "encoding": {"x": {"datum": 0.11}, "y": {"datum": -0.45}}},
{"mark": {"type": "text", "text": "Temporal retina", "align": "right", "baseline": "middle", "fontSize": 11, "color": "#333"},
 "encoding": {"x": {"datum": 9}, "y": {"datum": -0.68}}}
]
}
],
"spacing": 0,
"bounds": "flush"
}
],
"config": {
"view": {"stroke": null},
"font": "Liberation Sans",
"axis": {"grid": false, "tickColor": "#555", "tickSize": 5, "tickWidth": 1, "labelColor": "#333", "labelFontSize": 10, "labelPadding": 2, "labelFont": "Liberation Sans", "titleFont": "Liberation Sans"}
}
}
